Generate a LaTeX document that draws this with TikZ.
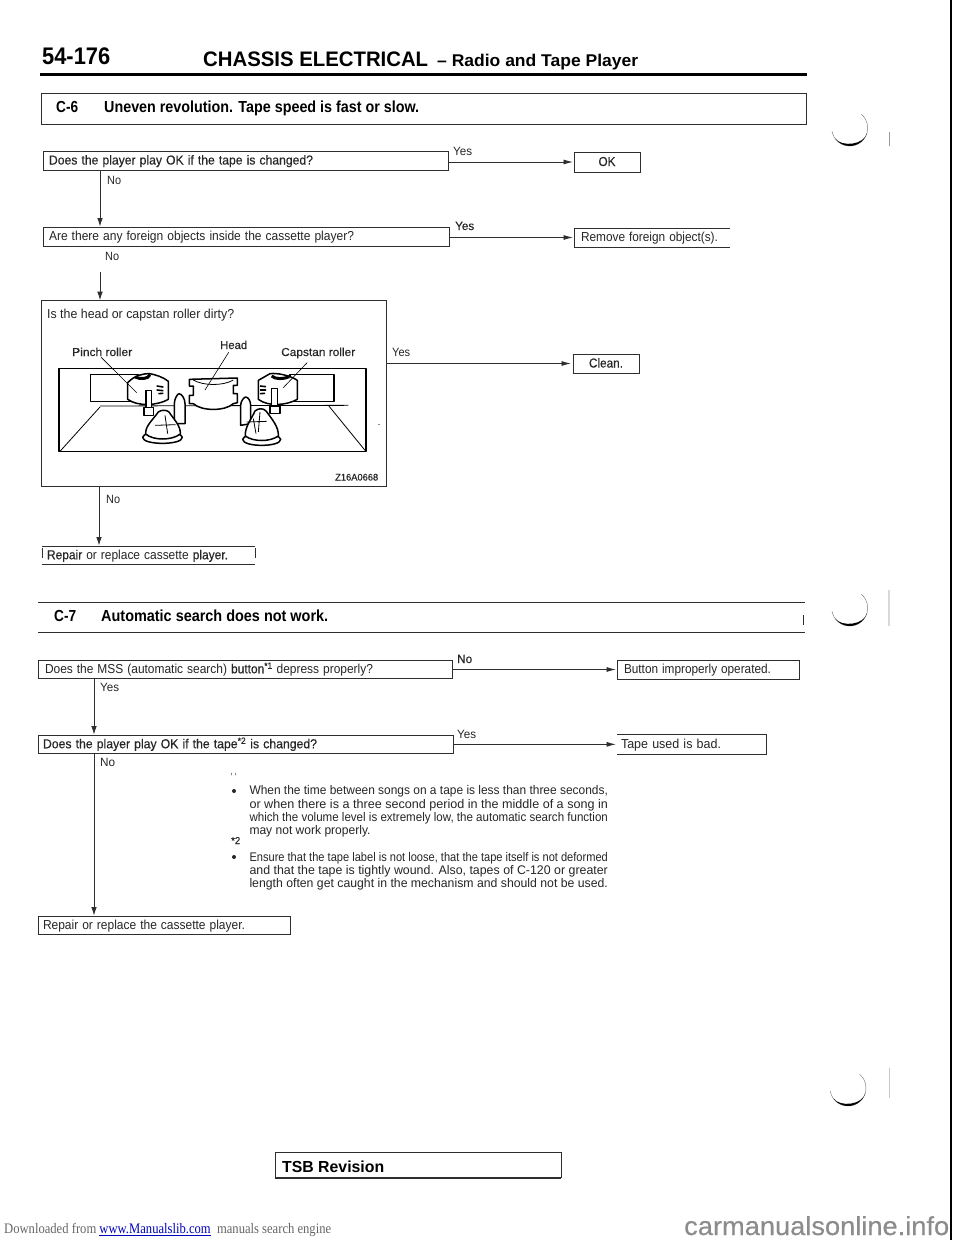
\documentclass[tikz,border=0pt]{standalone}
\usepackage{fontspec}
\usepackage{graphicx}
\setmainfont{Liberation Sans}
\newfontfamily\medf[FakeBold=0.35]{Liberation Sans}
\newfontfamily\serf{Liberation Serif}
\usetikzlibrary{arrows.meta,calc}
\definecolor{ink}{HTML}{262626}
\definecolor{linec}{HTML}{2E2E2E}
\newcommand\fitw[2]{\resizebox{#1pt}{\height}{#2}}
\newcommand\crescent[2]{%
  \begin{scope}[shift={(#1,#2)}]
    \draw[line width=.4pt,draw=black!55] (-12,15) ++(-50:18) arc[start angle=-50,end angle=170,radius=18];
    \fill[black] (-12,15) ++(15:18) arc[start angle=15,end angle=145,radius=18]
       .. controls (-20,34.5) and (3,32) .. (5.4,19.7) -- cycle;
  \end{scope}}
\tikzset{
  plainbox/.style n args={3}{anchor=north west,inner ysep=0pt,outer sep=0pt,minimum height=#2pt,
     minimum width=#1pt,inner xsep=#3pt,text width={(#1-2*#3)*1pt},text height=10pt,text depth=2pt,
     align=left,text=ink,font=\fontsize{13}{15}\selectfont},
  box/.style n args={3}{plainbox={#1}{#2}{#3},draw=linec,line width=1pt},
  lab/.style={anchor=base west,inner sep=0pt,text=ink,font=\fontsize{12}{14}\selectfont},
  txt/.style={anchor=base west,inner sep=0pt,text=ink,font=\fontsize{13}{15}\selectfont},
  note/.style={anchor=base west,inner sep=0pt,text=ink,font=\fontsize{12.5}{14}\selectfont},
  part/.style={anchor=base west,inner sep=0pt,text=ink,font=\medf\fontsize{11.5}{14}\selectfont},
  head/.style={anchor=base west,inner sep=0pt,text=black,font=\bfseries\fontsize{16}{18}\selectfont},
  varr/.style={line width=.9pt,draw=linec,-{Latex[length=8.5pt,width=5.6pt]},shorten >=.5pt},
  arr/.style={line width=.9pt,draw=linec,-{Latex[length=9.5pt,width=5pt]},shorten >=1pt},
  edge/.style={line width=1pt,draw=linec},
  dotn/.style={circle,fill=ink,inner sep=0pt,minimum size=4pt},
  ill/.style={line width=.8pt,draw=black,fill=white,line join=round},
  illt/.style={line width=1.5pt,draw=black,fill=white,line join=round},
  lead/.style={line width=.6pt,draw=black}
}
\begin{document}
\begin{tikzpicture}[x=1pt,y=-1pt]
\useasboundingbox[fill=white] (0,0) rectangle (960,1242);

% page header
\node[anchor=base west,inner sep=0pt,font=\bfseries\fontsize{24}{26}\selectfont] (pg) at (42,64) {\fitw{68}{54-176}};
\node[anchor=base west,inner sep=0pt,font=\bfseries\fontsize{21}{24}\selectfont] (ttl) at (203,66) {\fitw{225}{CHASSIS ELECTRICAL}};
\node[anchor=base west,inner sep=0pt,font=\bfseries\fontsize{17}{20}\selectfont] (sub) at (437,66) {\fitw{201}{– Radio and Tape Player}};
\draw[line width=3pt,draw=black] (40,74.5) -- (807,74.5);
\draw[line width=2.6pt,draw=black] (951,0) -- (951,1240);

% C-6
\node[box={765}{31}{0}] (c6) at (41,93) {};
\node[head] (c6a) at (56,112.5) {\fitw{22}{C-6}};
\node[head] (c6b) at (104,112.5) {\fitw{315}{Uneven revolution. Tape speed is fast or slow.}};

\node[box={404.5}{19}{5.5}] (q1) at (43.5,151) {\medf\fitw{264}{Does the player play OK if the tape is changed?}};
\node[box={66}{20}{0},align=center] (ok) at (574,152) {\centering\medf\fitw{17}{OK}};
\node[box={406}{19}{5.5}] (q2) at (43.5,227) {\fitw{305}{Are there any foreign objects inside the cassette player?}};
\node[plainbox={156}{19}{7}] (rem) at (574,228) {\fitw{137}{Remove foreign object(s).}};
\draw[edge] (rem.north east) -- (rem.north west) -- (rem.south west) -- (rem.south east);
\coordinate (c1) at (100,0);
\coordinate (c2) at (100,272);
\draw[varr] (q1.south -| c1) -- (q2.north -| c1);
\draw[arr] (q1.east |- ok.west) -- (ok.west);
\draw[arr] (q2.east |- rem.west) -- (rem.west);
\node[lab] (y1) at (453,155) {\fitw{19}{Yes}};
\node[lab] (n1) at (107,184) {\fitw{14}{No}};
\node[lab,font=\medf\fontsize{12}{14}\selectfont] (y2) at (455,230) {\fitw{19}{Yes}};
\node[lab] (n2) at (105,260) {\fitw{14}{No}};

% third question with figure
\node[box={345}{186}{0}] (q3) at (41.5,300.7) {};
\draw[varr] (c2) -- (q3.north -| c2);
\node[txt] (q3t) at (47,318) {\fitw{187}{Is the head or capstan roller dirty?}};
\node[box={66}{19}{0},align=center] (cl) at (573,354) {\centering\medf\fitw{34}{Clean.}};
\draw[arr,shorten >=2pt] (q3.east |- cl.west) -- (cl.west);
\node[lab] (y3) at (392,356) {\fitw{18}{Yes}};
\node[lab] (n3) at (106,503) {\fitw{14}{No}};

% figure, left half
\begin{scope}[shift={(55pt,-362pt)},x=.33333pt,y=-.33333pt]
  \draw[illt,line width=1.2pt] (12,20) rectangle (933,268);
  \draw[lead,line width=.8pt] (135,135) -- (15,268);
  \draw[ill] (135,132) -- (880,130);
  \draw[illt] (107,37) -- (250,37) -- (250,118) -- (107,118) -- cycle;
  \draw[illt] (218,62) -- (218,112) .. controls (250,135) and (310,130) .. (340,112) -- (340,58)
     .. controls (325,45) and (300,38) .. (285,35) .. controls (260,35) and (240,40) .. (218,62) -- cycle;
  \draw[line width=3pt,black] (240,45) .. controls (255,52) and (280,52) .. (285,38);
  \draw[line width=1.6pt] (305,72) -- (325,75) (305,84) -- (325,86) (310,95) -- (325,94);
  \draw[illt] (267,137) rectangle (295,160);
  \draw[illt] (273,85) rectangle (290,137);
  \draw[illt] (358,125) .. controls (358,110) and (368,95) .. (372,95) .. controls (380,95) and (390,110) .. (390,125) -- (390,185) -- (358,185) -- cycle;
  \draw[illt] (263,226) .. controls (263,250) and (382,250) .. (382,226) .. controls (382,205) and (263,205) .. (263,226) -- cycle;
  \draw[illt] (272,216) .. controls (270,192) and (295,172) .. (310,150) .. controls (318,143) and (335,143) .. (342,150) .. controls (355,170) and (378,192) .. (376,216) .. controls (350,236) and (295,236) .. (272,216) -- cycle;
  \draw[ill,fill=none] (300,190) -- (362,188) (330,160) -- (338,215);
  % head
  \draw[illt] (403,52) -- (403,72) -- (415,72) -- (415,100) -- (403,100) -- (403,125) -- (415,125)
     .. controls (440,148) and (510,148) .. (535,125) -- (547,122) -- (547,95) -- (535,95) -- (535,70) -- (547,70) -- (547,48) -- cycle;
  \draw[ill,fill=none] (415,54) .. controls (445,72) and (505,72) .. (535,54);
\end{scope}
% figure, right half
\begin{scope}[shift={(210pt,-362pt)},x=.33333pt,y=-.33333pt]
  \draw[lead,line width=.8pt] (355,130) -- (465,265);
  \draw[illt] (240,37) -- (372,37) -- (372,118) -- (240,118) -- cycle;
  \draw[illt] (145,55) -- (145,112) .. controls (175,135) and (230,130) .. (262,112) -- (262,55)
     .. controls (240,40) and (200,32) .. (180,35) -- cycle;
  \draw[line width=3pt,black] (185,42) .. controls (195,52) and (220,52) .. (238,44);
  \draw[line width=1.6pt] (150,72) -- (168,74) (150,84) -- (168,84) (150,95) -- (165,94);
  \draw[illt] (180,132) rectangle (210,155);
  \draw[illt] (185,80) rectangle (203,132);
  \draw[illt] (92,130) .. controls (92,118) and (102,105) .. (107,105) .. controls (115,105) and (122,118) .. (122,130) -- (122,185) -- (92,190) -- cycle;
  \draw[illt] (98,232) .. controls (98,256) and (212,256) .. (212,232) .. controls (212,212) and (98,212) .. (98,232) -- cycle;
  \draw[illt] (106,222) .. controls (104,195) and (125,170) .. (135,147) .. controls (145,138) and (160,138) .. (168,147) .. controls (185,170) and (207,195) .. (205,222) .. controls (180,240) and (130,240) .. (106,222) -- cycle;
  \draw[ill,fill=none] (110,180) -- (170,178) (130,170) -- (138,215) (150,150) -- (145,210);
\end{scope}
\node[part] (lp) at (72,356) {\fitw{60}{Pinch roller}};
\node[part] (lh) at (220,349) {\fitw{27}{Head}};
\node[part] (lc) at (281,356) {\fitw{74}{Capstan roller}};
\node[part,font=\medf\fontsize{9.5}{11}\selectfont] (lz) at (335,480.5) {\fitw{43}{Z16A0668}};
\draw[lead] (lp.south) ++(-1,1) coordinate (lpa) -- (136.7,392.7);
\draw[lead] (lh.south) ++(-5,3) coordinate (lha) -- (205,390);
\draw[lead] (lc.south) ++(-11,4) coordinate (lca) -- (283,388);
\draw[line width=.5pt,draw=black!45] (377.5,424) -- (380,424);

\node[plainbox={213}{18.5}{5}] (rp) at (42,546) {\fitw{181}{{\medf Repair} or replace cassette {\medf player.}}};
\draw[edge] (rp.north west) -- (rp.north east) (rp.south west) -- (rp.south east);
\draw[edge] (42,548) -- (42,558) (255,548) -- (255,558);
\coordinate (c3) at (99,0);
\draw[varr] (q3.south -| c3) -- (rp.north -| c3);

% C-7
\node[plainbox={767}{30}{0}] (c7) at (38,602.7) {};
\draw[edge,line width=1.1pt] (c7.north west) -- (c7.north east) (c7.south west) -- (c7.south east);
\draw[line width=1.4pt,draw=linec] (803.5,615) -- (803.5,625);
\node[head] (c7a) at (54,621.7) {\fitw{22}{C-7}};
\node[head] (c7b) at (101,621.7) {\fitw{227}{Automatic search does not work.}};

\node[box={414.7}{18.5}{7}] (q4) at (38,660) {\fitw{328}{Does the MSS (automatic search) {\medf button\textsuperscript{*1}} depress properly?}};
\node[box={182}{19}{7}] (bt) at (617,660) {\fitw{147}{Button improperly operated.}};
\node[box={415.5}{18.5}{5}] (q5) at (38,735) {\medf\fitw{274}{Does the player play OK if the tape\textsuperscript{*2} is changed?}};
\node[plainbox={149.5}{19.3}{4}] (tp) at (617,734.7) {\fitw{100}{Tape used is bad.}};
\draw[edge] (tp.north west) -- (tp.north east) -- (tp.south east) -- (tp.south west);
\node[box={252}{18}{5}] (q6) at (38,916) {\fitw{202}{Repair or replace the cassette player.}};
\coordinate (c4) at (94,0);
\draw[varr] (q4.south -| c4) -- (q5.north -| c4);
\draw[varr] (q5.south -| c4) -- (q6.north -| c4);
\draw[arr] (q4.east |- bt.west) -- (bt.west);
\draw[arr] (q5.east |- tp.west) -- (tp.west);
\node[lab,font=\medf\fontsize{12}{14}\selectfont] (n4) at (457,663) {\fitw{15}{No}};
\node[lab] (y4) at (100,691) {\fitw{19}{Yes}};
\node[lab] (y5) at (457,738.5) {\fitw{19}{Yes}};
\node[lab] (n5) at (100,766) {\fitw{15}{No}};

% notes
\node[anchor=base west,inner sep=0pt,text=ink,font=\fontsize{10}{11}\selectfont] (m1) at (230.5,780) {\fitw{6}{' '}};
\node[dotn] (b1) at (234,791) {};
\node[note] (l1) at (249.3,794.5) {\fitw{358.4}{When the time between songs on a tape is less than three seconds,}};
\node[note] (l2) at (249.3,808.2) {\fitw{358.4}{or when there is a three second period in the middle of a song in}};
\node[note] (l3) at (249.3,821.5) {\fitw{358.4}{which the volume level is extremely low, the automatic search function}};
\node[note] (l4) at (249.3,834.5) {\fitw{121}{may not work properly.}};
\node[anchor=base west,inner sep=0pt,text=ink,font=\medf\fontsize{10}{11}\selectfont] (m2) at (231,844) {\fitw{9}{*2}};
\node[dotn] (b2) at (234,857) {};
\node[note] (l5) at (249.3,861.2) {\fitw{358.4}{Ensure that the tape label is not loose, that the tape itself is not deformed}};
\node[note] (l6) at (249.3,874) {\fitw{358.4}{and that the tape is tightly wound. Also, tapes of C-120 or greater}};
\node[note] (l7) at (249.3,887.2) {\fitw{358.4}{length often get caught in the mechanism and should not be used.}};

% punch marks
\crescent{861.7}{113}
\crescent{861.7}{593}
\crescent{860}{1073}
\draw[line width=.8pt,draw=black!40] (889.5,132) -- (889.5,146);
\draw[line width=1.2pt,draw=black!15] (889,590) -- (889,626);
\draw[line width=1pt,draw=black!22] (889,1068) -- (889,1098);

% footer box
\node[plainbox={286}{26}{0}] (tsb) at (275,1152) {};
\draw[line width=.9pt,draw=linec] (tsb.south west) -- (tsb.north west) -- (tsb.north east) -- (tsb.south east);
\draw[line width=2.4pt,draw=linec] (tsb.south west) -- (tsb.south east);
\node[anchor=base west,inner sep=0pt,text=black,font=\bfseries\fontsize{16}{18}\selectfont] (tsbt) at (282,1172) {\fitw{102}{TSB Revision}};

\node[anchor=base west,inner sep=0pt,text=black!60,font=\serf\fontsize{14.5}{16}\selectfont] (f1) at (4,1233.5) {\fitw{327}{Downloaded from \textcolor{blue!75!black}{\underline{www.Manualslib.com}}\ \ manuals search engine}};
\node[anchor=base west,inner sep=0pt,text=black!45,font=\medf\fontsize{26}{28}\selectfont] (f2) at (684,1235) {\fitw{265}{carmanualsonline.info}};
\end{tikzpicture}
\end{document}
